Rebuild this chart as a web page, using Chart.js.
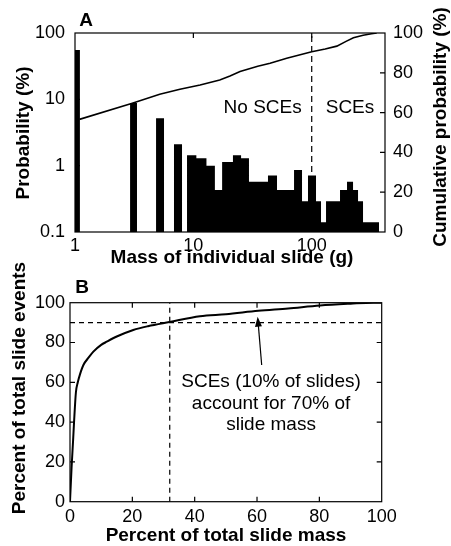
<!DOCTYPE html>
<html>
<head>
<meta charset="utf-8">
<script src="https://cdn.jsdelivr.net/npm/chart.js@4.4.1/dist/chart.umd.min.js"></script>
<style>
  body { margin: 0; background: #fff; }
  #wrap { position: relative; width: 451px; height: 546px; }
  canvas { position: absolute; left: 0; }
  #chartA { top: 0; }
  #chartB { top: 240px; }
</style>
</head>
<body>
<div id="wrap">
  <canvas id="chartA" width="451" height="270"></canvas>
  <canvas id="chartB" width="451" height="306"></canvas>
</div>
<script>
// Panel A: log-binned histogram of slide mass (g), probability in %
var binLo  = [1.0, 2.92, 4.84, 6.86, 8.84, 10.6, 12.9, 15.2, 17.5, 21.6, 25.3, 29.5, 35.2, 42.7, 50.9, 58.3, 70.9, 82.8, 93.0, 108.7, 119.8, 132.1, 173.4, 198.7, 223.4, 246.2, 271.3];
var binHi  = [1.10, 3.34, 5.65, 8.02, 10.6, 12.9, 15.2, 17.5, 21.6, 25.3, 29.5, 35.2, 42.7, 50.9, 58.3, 70.9, 82.8, 93.0, 108.7, 119.8, 132.1, 173.4, 198.7, 223.4, 246.2, 271.3, 370.3];
var binPct = [55.4, 8.8, 5.2, 2.1, 1.43, 1.29, 1.0, 0.43, 1.14, 1.43, 1.29, 0.57, 0.57, 0.71, 0.43, 0.43, 0.86, 0.29, 0.71, 0.29, 0.14, 0.29, 0.43, 0.57, 0.43, 0.29, 0.14];

// Panel A: cumulative probability (%) vs mass (g)
var cumMass = [1.09, 3, 5.2, 7.7, 11.4, 16.7, 20.4, 24.8, 35, 44.5, 61.5, 100, 130, 163, 195, 225, 272, 320, 354];
var cumPct  = [56.6, 64.6, 69.2, 71.7, 73.9, 76.4, 78.4, 80.6, 83.3, 84.8, 87.3, 90.6, 92.0, 93.4, 95.8, 97.6, 98.9, 99.6, 100];

var massTicks = [1, 10, 100];
var probTicks = [0.1, 1, 10, 100];
var scesMass = 100;

// Panel B: percent of total slide events vs percent of total slide mass
var massShare  = [0, 0.5, 1.0, 1.3, 1.9, 2.5, 3.2, 4.3, 6, 7.5, 10, 11.8, 15, 20.3, 25, 31.9, 41.7, 50, 60.4, 70, 80.2, 90, 97.3, 100];
var eventShare = [0, 17, 31, 40, 55, 60, 64, 68.7, 72.5, 75.4, 78.8, 80.4, 83, 86.3, 88.2, 90.3, 93.2, 94.2, 95.9, 97.1, 98.6, 99.5, 100, 100];
var cutMass = 32;
var cutEvents = 90;
var noteLines = ['SCEs (10% of slides)', 'account for 70% of', 'slide mass'];

Chart.defaults.font.family = '"Liberation Sans", Arial, Helvetica, sans-serif';
Chart.defaults.color = '#000';

var BOLD = 'bold 19px "Liberation Sans", Arial, sans-serif';
var REG = '19px "Liberation Sans", Arial, sans-serif';

function text(ctx, str, x, y, font, align, rot) {
    ctx.save();
    ctx.font = font;
    ctx.fillStyle = '#000';
    ctx.textAlign = align || 'center';
    ctx.textBaseline = 'middle';
    ctx.translate(x, y);
    if (rot) ctx.rotate(rot);
    ctx.fillText(str, 0, 0);
    ctx.restore();
}

// frame + inward tick marks
function frame(chart, xs, lefts, rights, rightAxis) {
    var ctx = chart.ctx, a = chart.chartArea, len = 5;
    ctx.save();
    ctx.strokeStyle = '#000';
    ctx.lineWidth = 1.2;
    ctx.strokeRect(a.left, a.top, a.right - a.left, a.bottom - a.top);
    ctx.beginPath();
    xs.forEach(function (v) {
        var px = chart.scales.x.getPixelForValue(v);
        ctx.moveTo(px, a.bottom); ctx.lineTo(px, a.bottom - len);
        ctx.moveTo(px, a.top); ctx.lineTo(px, a.top + len);
    });
    lefts.forEach(function (v) {
        var py = chart.scales.y.getPixelForValue(v);
        ctx.moveTo(a.left, py); ctx.lineTo(a.left + len, py);
    });
    rights.forEach(function (v) {
        var py = chart.scales[rightAxis].getPixelForValue(v);
        ctx.moveTo(a.right, py); ctx.lineTo(a.right - len, py);
    });
    ctx.stroke();
    ctx.restore();
}

var panelA = {
    id: 'panelA',
    afterDatasetsDraw: function (chart) {
        var ctx = chart.ctx;
        frame(chart, [10, 100], [1, 10], [20, 40, 60, 80], 'y2');
        var px = chart.scales.x.getPixelForValue(scesMass);
        var py = chart.scales.y2.getPixelForValue(62.3);
        text(ctx, 'No SCEs', px - 10, py, REG, 'right');
        text(ctx, 'SCEs', px + 14, py, REG, 'left');
        text(ctx, 'A', 86, 21, BOLD);
        text(ctx, 'Probability (%)', 24, 133, BOLD, 'center', -Math.PI / 2);
        text(ctx, 'Cumulative probability (%)', 441, 127, BOLD, 'center', -Math.PI / 2);
        text(ctx, 'Mass of individual slide (g)', 232, 258, BOLD);
    }
};

var panelB = {
    id: 'panelB',
    afterDatasetsDraw: function (chart) {
        var ctx = chart.ctx, sx = chart.scales.x, sy = chart.scales.y;
        frame(chart, [20, 40, 60, 80], [20, 40, 60, 80], [20, 40, 60, 80], 'y');
        var cx = sx.getPixelForValue(64.5);
        var ys = [60.3, 49.4, 38.5];
        noteLines.forEach(function (s, i) {
            text(ctx, s, cx, sy.getPixelForValue(ys[i]), REG);
        });
        // arrow
        var tx = sx.getPixelForValue(60.2), ty = sy.getPixelForValue(93);
        var bx = sx.getPixelForValue(61.5), by = sy.getPixelForValue(68.7);
        var ang = Math.atan2(ty - by, tx - bx);
        ctx.save();
        ctx.strokeStyle = '#000';
        ctx.fillStyle = '#000';
        ctx.lineWidth = 1.2;
        ctx.beginPath();
        ctx.moveTo(bx, by);
        ctx.lineTo(tx - 8 * Math.cos(ang), ty - 8 * Math.sin(ang));
        ctx.stroke();
        ctx.beginPath();
        ctx.moveTo(tx, ty);
        ctx.lineTo(tx - 10 * Math.cos(ang) + 3.5 * Math.sin(ang), ty - 10 * Math.sin(ang) - 3.5 * Math.cos(ang));
        ctx.lineTo(tx - 10 * Math.cos(ang) - 3.5 * Math.sin(ang), ty - 10 * Math.sin(ang) + 3.5 * Math.cos(ang));
        ctx.closePath();
        ctx.fill();
        ctx.restore();
        // canvas B starts 240px down the page
        text(ctx, 'B', 82, 48, BOLD);
        text(ctx, 'Percent of total slide events', 20, 148, BOLD, 'center', -Math.PI / 2);
        text(ctx, 'Percent of total slide mass', 226, 296, BOLD);
    }
};

// stepped outline of the histogram, dropping to the floor between separated bars
var barPoints = [];
binLo.forEach(function (lo, i) {
    barPoints.push({ x: lo, y: binPct[i] });
    if (i === binLo.length - 1 || binLo[i + 1] > binHi[i] + 0.01) {
        barPoints.push({ x: binHi[i], y: 0.1 });
    }
});
var cumPoints = cumMass.map(function (m, i) { return { x: m, y: cumPct[i] }; });

function fixedTicks(list) {
    return function (scale) {
        scale.ticks = list.map(function (v) { return { value: v }; });
    };
}

var noGrid = { display: false, drawTicks: false };

new Chart(document.getElementById('chartA'), {
    type: 'line',
    data: {
        datasets: [
            {
                label: 'Probability',
                data: barPoints,
                yAxisID: 'y',
                stepped: 'before',
                fill: 'start',
                backgroundColor: '#000',
                borderColor: 'rgba(0,0,0,0)',
                borderWidth: 0,
                pointRadius: 0,
            },
            {
                label: 'SCE limit',
                data: [{ x: scesMass, y: 0.1 }, { x: scesMass, y: 100 }],
                yAxisID: 'y',
                borderColor: '#000',
                borderWidth: 1.2,
                borderDash: [6, 4],
                pointRadius: 0,
            },
            {
                label: 'Cumulative',
                data: cumPoints,
                yAxisID: 'y2',
                borderColor: '#000',
                borderWidth: 1.6,
                pointRadius: 0,
                tension: 0,
            },
        ],
    },
    options: {
        responsive: false,
        animation: false,
        layout: { padding: { top: 33, left: 0, right: 0, bottom: 0 } },
        plugins: { legend: { display: false }, tooltip: { enabled: false } },
        scales: {
            x: {
                type: 'logarithmic', min: 1, max: 416, bounds: 'data',
                grid: noGrid, border: { display: false },
                afterBuildTicks: fixedTicks(massTicks),
                afterFit: function (s) { s.height = 38; },
                ticks: { font: { size: 18 }, padding: 3, maxRotation: 0, autoSkip: false,
                         callback: function (v) { return String(v); } },
            },
            y: {
                type: 'logarithmic', position: 'left', min: 0.1, max: 100, bounds: 'data',
                grid: noGrid, border: { display: false },
                afterBuildTicks: fixedTicks(probTicks),
                afterFit: function (s) { s.width = 75; },
                ticks: { font: { size: 18 }, padding: 10, autoSkip: false,
                         callback: function (v) { return String(v); } },
            },
            y2: {
                type: 'linear', position: 'right', min: 0, max: 100,
                grid: noGrid, border: { display: false },
                afterFit: function (s) { s.width = 66; },
                ticks: { font: { size: 18 }, padding: 8, stepSize: 20 },
            },
        },
    },
    plugins: [panelA],
});

new Chart(document.getElementById('chartB'), {
    type: 'line',
    data: {
        datasets: [
            {
                label: 'Events vs mass',
                data: massShare.map(function (m, i) { return { x: m, y: eventShare[i] }; }),
                borderColor: '#000',
                borderWidth: 2,
                pointRadius: 0,
                cubicInterpolationMode: 'monotone',
            },
            {
                label: '90% events',
                data: [{ x: 0, y: cutEvents }, { x: 100, y: cutEvents }],
                borderColor: '#000',
                borderWidth: 1.2,
                borderDash: [5, 4],
                pointRadius: 0,
            },
            {
                label: 'mass cut',
                data: [{ x: cutMass, y: 0 }, { x: cutMass, y: 100 }],
                borderColor: '#000',
                borderWidth: 1.2,
                borderDash: [5, 4],
                pointRadius: 0,
            },
        ],
    },
    options: {
        responsive: false,
        animation: false,
        layout: { padding: { top: 62.7, left: 0, right: 69.3, bottom: 0 } },
        plugins: { legend: { display: false }, tooltip: { enabled: false } },
        scales: {
            x: {
                type: 'linear', min: 0, max: 100,
                grid: noGrid, border: { display: false },
                afterFit: function (s) { s.height = 44.3; },
                ticks: { font: { size: 18 }, padding: 5, stepSize: 20, maxRotation: 0 },
            },
            y: {
                type: 'linear', min: 0, max: 100,
                grid: noGrid, border: { display: false },
                afterFit: function (s) { s.width = 70; },
                ticks: { font: { size: 18 }, padding: 5, stepSize: 20 },
            },
        },
    },
    plugins: [panelB],
});
</script>
</body>
</html>
